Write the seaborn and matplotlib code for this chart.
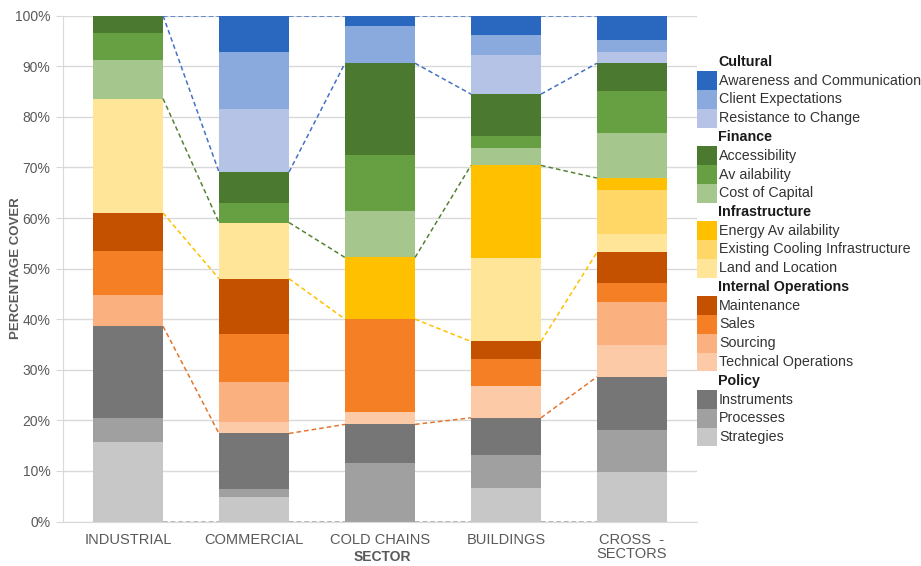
import numpy as np
import pandas as pd
import matplotlib.pyplot as plt
from matplotlib.patches import Rectangle
import seaborn as sns

sectors = ["INDUSTRIAL", "COMMERCIAL", "COLD CHAINS", "BUILDINGS", "CROSS  -\nSECTORS"]

# percentage cover of each barrier, per sector
awareness = [0, 7.2, 2.0, 3.8, 4.8]
client = [0, 11.3, 7.4, 4.0, 2.4]
resistance = [0, 12.4, 0, 7.7, 2.2]
accessibility = [3.5, 6.1, 18.2, 8.3, 5.5]
availability = [5.3, 3.9, 11.1, 2.3, 8.3]
cost_of_capital = [7.6, 0, 9.1, 3.5, 8.9]
energy_availability = [0, 0, 12.2, 18.4, 2.4]
existing_cooling = [0, 0, 0, 0, 8.6]
land_location = [22.6, 11.1, 0, 16.4, 3.7]
maintenance = [7.6, 11.0, 0, 3.4, 6.1]
sales = [8.6, 9.5, 18.3, 5.5, 3.7]
sourcing = [6.2, 7.9, 0, 0, 8.5]
technical_ops = [0, 2.2, 2.5, 6.2, 6.3]
instruments = [18.2, 11.0, 7.6, 7.3, 10.6]
processes = [4.7, 1.6, 11.6, 6.6, 8.2]
strategies = [15.7, 4.8, 0, 6.6, 9.8]

groups = [
    ("Cultural", "#4472C4", [
        ("Awareness and Communication", awareness, "#2A67BF"),
        ("Client Expectations", client, "#8AA9DC"),
        ("Resistance to Change", resistance, "#B4C3E6")]),
    ("Finance", "#548235", [
        ("Accessibility", accessibility, "#4A792F"),
        ("Av ailability", availability, "#66A043"),
        ("Cost of Capital", cost_of_capital, "#A5C78E")]),
    ("Infrastructure", "#FFC000", [
        ("Energy Av ailability", energy_availability, "#FFC000"),
        ("Existing Cooling Infrastructure", existing_cooling, "#FFD766"),
        ("Land and Location", land_location, "#FFE598")]),
    ("Internal Operations", "#E2762E", [
        ("Maintenance", maintenance, "#C45100"),
        ("Sales", sales, "#F57F25"),
        ("Sourcing", sourcing, "#FBB07F"),
        ("Technical Operations", technical_ops, "#FDCAA8")]),
    ("Policy", "#A5A5A5", [
        ("Instruments", instruments, "#767676"),
        ("Processes", processes, "#A0A0A0"),
        ("Strategies", strategies, "#C7C7C7")]),
]

sns.set_style("white")
plt.rcParams["font.family"] = ["Liberation Sans", "DejaVu Sans"]
grey_txt = "#595959"

W, H = 921, 566
fig = plt.figure(figsize=(W / 100, H / 100), dpi=100)
ax = fig.add_axes([63 / W, 1 - 521.5 / H, (697 - 63) / W, (521.5 - 15.7) / H])
bar_w = 0.556

# cumulative tops, stacked from the bottom (Policy) upward
df = pd.DataFrame({"sector": sectors})
running = np.zeros(len(sectors))
layers = []
boundaries = [(running.copy(), "#A5A5A5")]
for gname, lcolor, items in reversed(groups):
    for name, vals, color in reversed(items):
        running = running + np.array(vals, dtype=float)
        df[name] = running
        layers.append((name, color))
    boundaries.append((running.copy(), lcolor))
# line at the top of each group takes the colour of the group above it
fixed = [(boundaries[0][0], boundaries[0][1])]
for k in range(1, len(boundaries)):
    col = boundaries[k + 1][1] if k + 1 < len(boundaries) else boundaries[k][1]
    fixed.append((boundaries[k][0], col))

for name, color in reversed(layers):
    sns.barplot(data=df, x="sector", y=name, color=color, saturation=1,
                width=bar_w, linewidth=0, errorbar=None, ax=ax, zorder=2)

# series lines between the bars
for lev, col in fixed:
    for i in range(len(sectors) - 1):
        ax.plot([i + bar_w / 2, i + 1 - bar_w / 2], [lev[i], lev[i + 1]],
                color=col, lw=1.1, ls=(0, (3, 2)), zorder=3)

ax.set_xlim(-0.516, 4.516)
ax.set_ylim(0, 100)
ax.set_yticks(range(0, 101, 10))
ax.set_yticklabels([f"{v}%" for v in range(0, 101, 10)])
ax.yaxis.grid(True, color="#D9D9D9", lw=1)
ax.set_axisbelow(True)
ax.set_xlabel("")
ax.set_ylabel("")
for s in ["top", "right"]:
    ax.spines[s].set_visible(False)
for s in ["left", "bottom"]:
    ax.spines[s].set_color("#D9D9D9")
ax.tick_params(axis="y", length=5, color="#D9D9D9", labelsize=10, labelcolor=grey_txt, pad=4, left=True)
ax.tick_params(axis="x", length=0, labelsize=10.5, labelcolor=grey_txt, pad=8)
for t in ax.get_xticklabels():
    t.set_linespacing(1.05)

fig.text(16 / W, 1 - 268 / H, "PERCENTAGE COVER", rotation=90, ha="center", va="center",
         fontsize=9.5, fontweight="bold", color=grey_txt)
fig.text(382 / W, 1 - 557 / H, "SECTOR", ha="center", va="center",
         fontsize=10, fontweight="bold", color=grey_txt)

# legend built by hand: group headers with their entries
row_h = 18.75
k = 0
for gname, lcolor, items in groups:
    y = 62 + k * row_h
    fig.text(718 / W, 1 - y / H, gname, ha="left", va="center", fontsize=10.3,
             fontweight="bold", color="#1A1A1A")
    k += 1
    for name, vals, color in items:
        y = 62 + k * row_h
        fig.add_artist(Rectangle((697 / W, 1 - (y + row_h / 2) / H), 20 / W, row_h / H,
                                 transform=fig.transFigure, color=color, lw=0))
        fig.text(719 / W, 1 - y / H, name, ha="left", va="center", fontsize=10.3,
                 color="#333333")
        k += 1

fig.savefig("out.png", dpi=100)
